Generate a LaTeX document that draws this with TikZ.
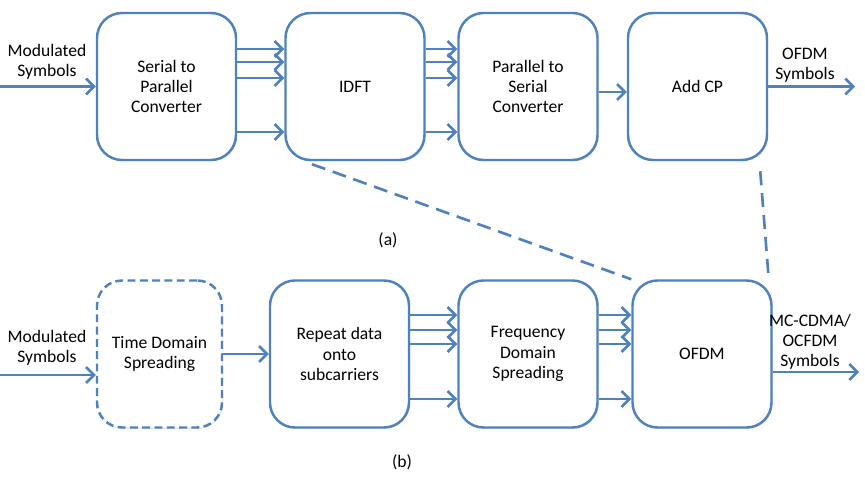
\documentclass[tikz,border=0pt]{standalone}
\usepackage{fontspec}
\setmainfont{Carlito}
\usetikzlibrary{arrows.meta,shadows}
\definecolor{lineblue}{HTML}{4F81BD}
\tikzset{
    blk/.style={draw=lineblue, line width=1.4pt, rounded corners=0.5cm, fill=white,
        minimum width=2.78cm, minimum height=2.94cm, align=center,
        drop shadow={opacity=0.18, shadow xshift=0.6pt, shadow yshift=-0.8pt}},
    arr/.style={draw=lineblue, line width=1.5pt, -{Straight Barb[length=4.5pt,width=9pt]}},
    lnk/.style={draw=lineblue, line width=1.5pt, dash pattern=on 8pt off 4.5pt},
    lbl/.style={align=center, inner sep=0pt}
}
\begin{document}
\begin{tikzpicture}[font=\fontsize{10}{11.5}\selectfont]
\useasboundingbox (0,0) rectangle (17.3,9.56);

% (a)
\node[blk] (s2p) at (3.33,7.83) {Serial to\\Parallel\\Converter};
\node[blk] (idft) at (7.10,7.83) {IDFT};
\node[blk] (p2s) at (10.56,7.83) {Parallel to\\Serial\\Converter};
\node[blk] (addcp) at (13.95,7.83) {Add CP};

\coordinate (ina) at (0,7.83);
\coordinate (outa) at (17.1,7.83);
\node[lbl] (ina label) at (0.94,8.32) {Modulated\\Symbols};
\node[lbl] (outa label) at (16.1,8.26) {OFDM\\Symbols};

\draw[arr] (ina) -- (s2p.west);
\foreach \dy in {0.75,0.49,0.17,-0.91}
{
    \draw[arr] ([yshift=\dy cm]s2p.east) -- ([yshift=\dy cm]idft.west);
    \draw[arr] ([yshift=\dy cm]idft.east) -- ([yshift=\dy cm]p2s.west);
}
\draw[arr] ([yshift=-0.11cm]p2s.east) -- ([yshift=-0.11cm]addcp.west);
\draw[arr] (addcp.east) -- (outa);

\node (cap a) at (7.76,4.76) {(a)};

% (b)
\node[blk, minimum width=2.5cm, dash pattern=on 4.5pt off 2.5pt] (tds) at (3.19,2.48) {Time Domain\\Spreading};
\node[blk] (rep) at (6.79,2.48) {Repeat data\\onto\\subcarriers};
\node[blk] (fds) at (10.56,2.48) {Frequency\\Domain\\Spreading};
\node[blk] (ofdm) at (14.04,2.48) {OFDM};

\coordinate (inb) at (0,2.06);
\coordinate (outb) at (17.18,2.12);
\node[lbl] (inb label) at (0.94,2.6) {Modulated\\Symbols};
\node[lbl] (outb label) at (16.2,2.72) {MC-CDMA/\\OCFDM\\Symbols};

\draw[arr] (inb) -- (inb -| tds.west);
\draw[arr] (tds.east) -- (rep.west);
\foreach \dy in {0.78,0.48,0.2,-0.9}
{
    \draw[arr] ([yshift=\dy cm]rep.east) -- ([yshift=\dy cm]fds.west);
    \draw[arr] ([yshift=\dy cm]fds.east) -- ([yshift=\dy cm]ofdm.west);
}
\draw[arr] (outb -| ofdm.east) -- (outb);

\node (cap b) at (8.04,0.32) {(b)};

% OFDM block expanded above
\draw[lnk] ([xshift=-0.86cm,yshift=-0.06cm]idft.south) -- (ofdm.north west);
\draw[lnk] ([xshift=-0.16cm,yshift=-0.2cm]addcp.south east) -- ([xshift=-0.08cm]ofdm.north east);
\end{tikzpicture}
\end{document}
